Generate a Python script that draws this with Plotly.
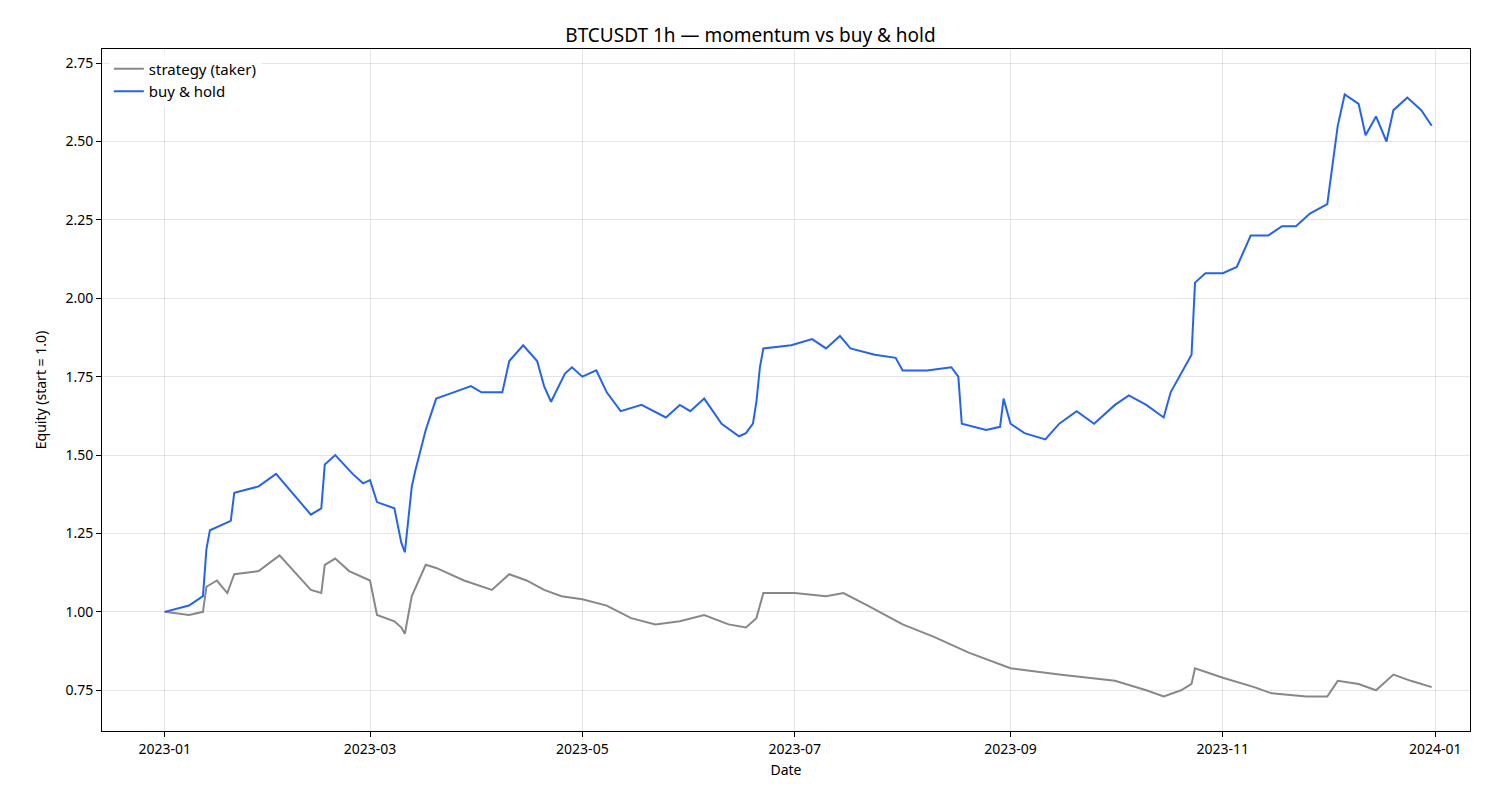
import plotly.graph_objects as go

# buy & hold equity
bh_dates = ["2023-01-01","2023-01-08","2023-01-12","2023-01-13","2023-01-14","2023-01-20","2023-01-21","2023-01-28",
    "2023-02-02","2023-02-05","2023-02-09","2023-02-12","2023-02-15","2023-02-16","2023-02-19","2023-02-24","2023-02-27",
    "2023-03-01","2023-03-03","2023-03-08","2023-03-10","2023-03-11","2023-03-13","2023-03-14","2023-03-17","2023-03-20",
    "2023-03-25","2023-03-30","2023-04-02","2023-04-08","2023-04-10","2023-04-14","2023-04-18","2023-04-20","2023-04-22",
    "2023-04-26","2023-04-28","2023-05-01","2023-05-05","2023-05-08","2023-05-12","2023-05-18","2023-05-25","2023-05-29",
    "2023-06-01","2023-06-05","2023-06-10","2023-06-15","2023-06-17","2023-06-19","2023-06-20","2023-06-21","2023-06-22",
    "2023-06-30","2023-07-06","2023-07-10","2023-07-14","2023-07-17","2023-07-24","2023-07-30","2023-08-01","2023-08-08",
    "2023-08-15","2023-08-17","2023-08-18","2023-08-25","2023-08-29","2023-08-30","2023-09-01","2023-09-05","2023-09-11",
    "2023-09-15","2023-09-20","2023-09-25","2023-10-01","2023-10-05","2023-10-10","2023-10-15","2023-10-17","2023-10-20",
    "2023-10-23","2023-10-24","2023-10-27","2023-11-01","2023-11-05","2023-11-09","2023-11-14","2023-11-18","2023-11-22",
    "2023-11-26","2023-12-01","2023-12-04","2023-12-06","2023-12-10","2023-12-12","2023-12-15","2023-12-18","2023-12-20",
    "2023-12-24","2023-12-28","2023-12-31"]
bh_values = [1.00,1.02,1.05,1.20,1.26,1.29,1.38,1.40,
    1.44,1.40,1.35,1.31,1.33,1.47,1.50,1.44,1.41,
    1.42,1.35,1.33,1.22,1.19,1.40,1.45,1.58,1.68,
    1.70,1.72,1.70,1.70,1.80,1.85,1.80,1.72,1.67,
    1.76,1.78,1.75,1.77,1.70,1.64,1.66,1.62,1.66,
    1.64,1.68,1.60,1.56,1.57,1.60,1.67,1.78,1.84,
    1.85,1.87,1.84,1.88,1.84,1.82,1.81,1.77,1.77,
    1.78,1.75,1.60,1.58,1.59,1.68,1.60,1.57,1.55,
    1.60,1.64,1.60,1.66,1.69,1.66,1.62,1.70,1.76,
    1.82,2.05,2.08,2.08,2.10,2.20,2.20,2.23,2.23,
    2.27,2.30,2.55,2.65,2.62,2.52,2.58,2.50,2.60,
    2.64,2.60,2.55]

# strategy (taker) equity
st_dates = ["2023-01-01","2023-01-08","2023-01-12","2023-01-13","2023-01-16","2023-01-19","2023-01-21","2023-01-28",
    "2023-02-03","2023-02-08","2023-02-12","2023-02-15","2023-02-16","2023-02-19","2023-02-23","2023-03-01","2023-03-03",
    "2023-03-08","2023-03-10","2023-03-11","2023-03-13","2023-03-17","2023-03-20","2023-03-28","2023-04-05","2023-04-10",
    "2023-04-15","2023-04-20","2023-04-25","2023-05-01","2023-05-08","2023-05-15","2023-05-22","2023-05-29","2023-06-05",
    "2023-06-12","2023-06-17","2023-06-20","2023-06-22","2023-07-01","2023-07-10","2023-07-15","2023-07-22","2023-08-01",
    "2023-08-10","2023-08-20","2023-09-01","2023-09-15","2023-10-01","2023-10-10","2023-10-15","2023-10-20","2023-10-23",
    "2023-10-24","2023-11-01","2023-11-10","2023-11-15","2023-11-25","2023-12-01","2023-12-04","2023-12-10","2023-12-15",
    "2023-12-20","2023-12-25","2023-12-31"]
st_values = [1.00,0.99,1.00,1.08,1.10,1.06,1.12,1.13,
    1.18,1.12,1.07,1.06,1.15,1.17,1.13,1.10,0.99,
    0.97,0.95,0.93,1.05,1.15,1.14,1.10,1.07,1.12,
    1.10,1.07,1.05,1.04,1.02,0.98,0.96,0.97,0.99,
    0.96,0.95,0.98,1.06,1.06,1.05,1.06,1.02,0.96,
    0.92,0.87,0.82,0.80,0.78,0.75,0.73,0.75,0.77,
    0.82,0.79,0.76,0.74,0.73,0.73,0.78,0.77,0.75,
    0.80,0.78,0.76]

fig = go.Figure()
fig.add_trace(go.Scatter(x=st_dates, y=st_values, mode="lines", name="strategy (taker)",
                         line=dict(color="#888888", width=2)))
fig.add_trace(go.Scatter(x=bh_dates, y=bh_values, mode="lines", name="buy & hold",
                         line=dict(color="#2563eb", width=2)))

axis_common = dict(showline=True, linecolor="black", linewidth=1, mirror=True,
                   showgrid=True, gridcolor="rgba(0,0,0,0.1)", ticks="outside",
                   tickcolor="black", ticklen=5, zeroline=False,
                   tickfont=dict(size=14, color="black"))

fig.update_layout(
    width=1485, height=810,
    paper_bgcolor="white", plot_bgcolor="white",
    font=dict(family="Noto Sans", color="black"),
    title=dict(text="BTCUSDT 1h — momentum vs buy & hold", x=0.5, y=0.975,
               xanchor="center", font=dict(size=19)),
    margin=dict(l=94, r=23, t=41, b=87),
    xaxis=dict(axis_common, title=dict(text="Date", font=dict(size=14), standoff=8),
               range=["2022-12-14", "2024-01-11"], dtick="M2", tickformat="%Y-%m",
               tick0="2023-01-01"),
    yaxis=dict(axis_common, title=dict(text="Equity (start = 1.0)", font=dict(size=14)),
               range=[0.62, 2.795], dtick=0.25, tickformat=".2f"),
    legend=dict(x=0.005, y=0.995, xanchor="left", yanchor="top",
                bgcolor="rgba(255,255,255,0.8)", font=dict(size=15)),
)

fig.write_html("out.html")
